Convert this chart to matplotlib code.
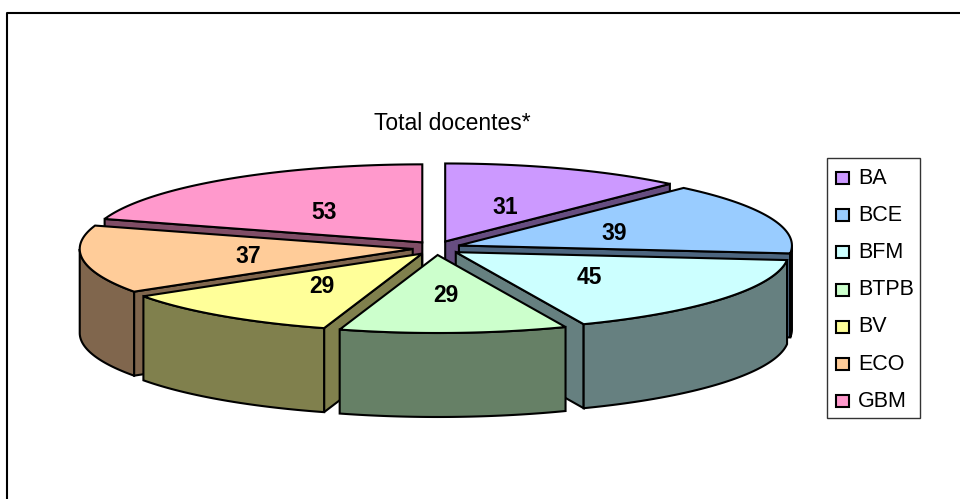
import matplotlib
matplotlib.use("Agg")
import matplotlib.pyplot as plt
from matplotlib.patches import Polygon, Rectangle
import numpy as np

labels = ["BA", "BCE", "BFM", "BTPB", "BV", "ECO", "GBM"]
values = [31, 39, 45, 29, 29, 37, 53]
colors = ["#CC99FF", "#99CCFF", "#CCFFFF", "#CCFFCC", "#FFFF99", "#FFCC99", "#FF99CC"]
title = "Total docentes*"

# pie geometry, in pixels
CX, CY = 436.5, 248
RX, RY = 333, 78
DEPTH = 84
EXPLODE_X, EXPLODE_Y = 24, 7

plt.rcParams["font.family"] = ["Liberation Sans", "DejaVu Sans"]


def darker(color):
    r, g, b = matplotlib.colors.to_rgb(color)
    return (r * 0.5, g * 0.5, b * 0.5)


def rim(apex, a0, a1):
    """Points on the ellipse, angles clockwise from the top."""
    t = np.radians(np.linspace(a0, a1, 80))
    return np.column_stack([apex[0] + RX * np.sin(t), apex[1] - RY * np.cos(t)])


def draw_slice(ax, a0, a1, color, value):
    mid = np.radians((a0 + a1) / 2)
    apex = (CX + EXPLODE_X * np.sin(mid), CY - EXPLODE_Y * np.cos(mid))
    side = darker(color)
    down = np.array([0, DEPTH])

    # radial cut faces, only those turned towards the viewer
    faces = []
    if np.sin(np.radians(a0)) < -1e-6:
        faces.append(a0)
    if np.sin(np.radians(a1)) > 1e-6:
        faces.append(a1)
    for a in faces:
        edge = rim(apex, a, a)[:1]
        quad = np.vstack([[apex], edge, edge + down, [np.array(apex) + down]])
        ax.add_patch(Polygon(quad, fc=side, ec="black", lw=1.5, joinstyle="miter"))

    # outer wall
    w0, w1 = max(a0, 90), min(a1, 270)
    if w1 > w0:
        arc = rim(apex, w0, w1)
        ax.add_patch(Polygon(np.vstack([arc, (arc + down)[::-1]]), fc=side, ec="black", lw=1.5))

    top = np.vstack([[apex], rim(apex, a0, a1)])
    ax.add_patch(Polygon(top, fc=color, ec="black", lw=1.5, joinstyle="miter"))

    ax.text(apex[0] + 0.5 * RX * np.sin(mid), apex[1] - 0.5 * RY * np.cos(mid) + 2, str(value),
            ha="center", va="center", fontsize=16.5, fontweight="bold", zorder=5)


fig = plt.figure(figsize=(9.6, 4.99), dpi=100)
ax = fig.add_axes([0, 0, 1, 1])
ax.set_xlim(0, 960)
ax.set_ylim(499, 0)
ax.axis("off")

# chart frame, cut off by the image on the right and at the bottom
ax.plot([7, 7, 960], [499, 13, 13], color="black", lw=1.5)

ax.text(452, 123, title, ha="center", va="center", fontsize=16.5)

edges = np.concatenate([[0], np.cumsum(values)]) / sum(values) * 360
# back to front
for i in [0, 6, 1, 5, 2, 4, 3]:
    draw_slice(ax, edges[i], edges[i + 1], colors[i], values[i])

# legend
ax.add_patch(Rectangle((827, 158), 93, 260, fc="white", ec="#333333", lw=1))
for i, lab in enumerate(labels):
    y = 178 + i * 37.2
    ax.add_patch(Rectangle((835.5, y - 6), 13, 12, fc=colors[i], ec="black", lw=1.5))
    ax.text(858, y, lab, ha="left", va="center", fontsize=15.5)

fig.savefig("out.png", dpi=100)
